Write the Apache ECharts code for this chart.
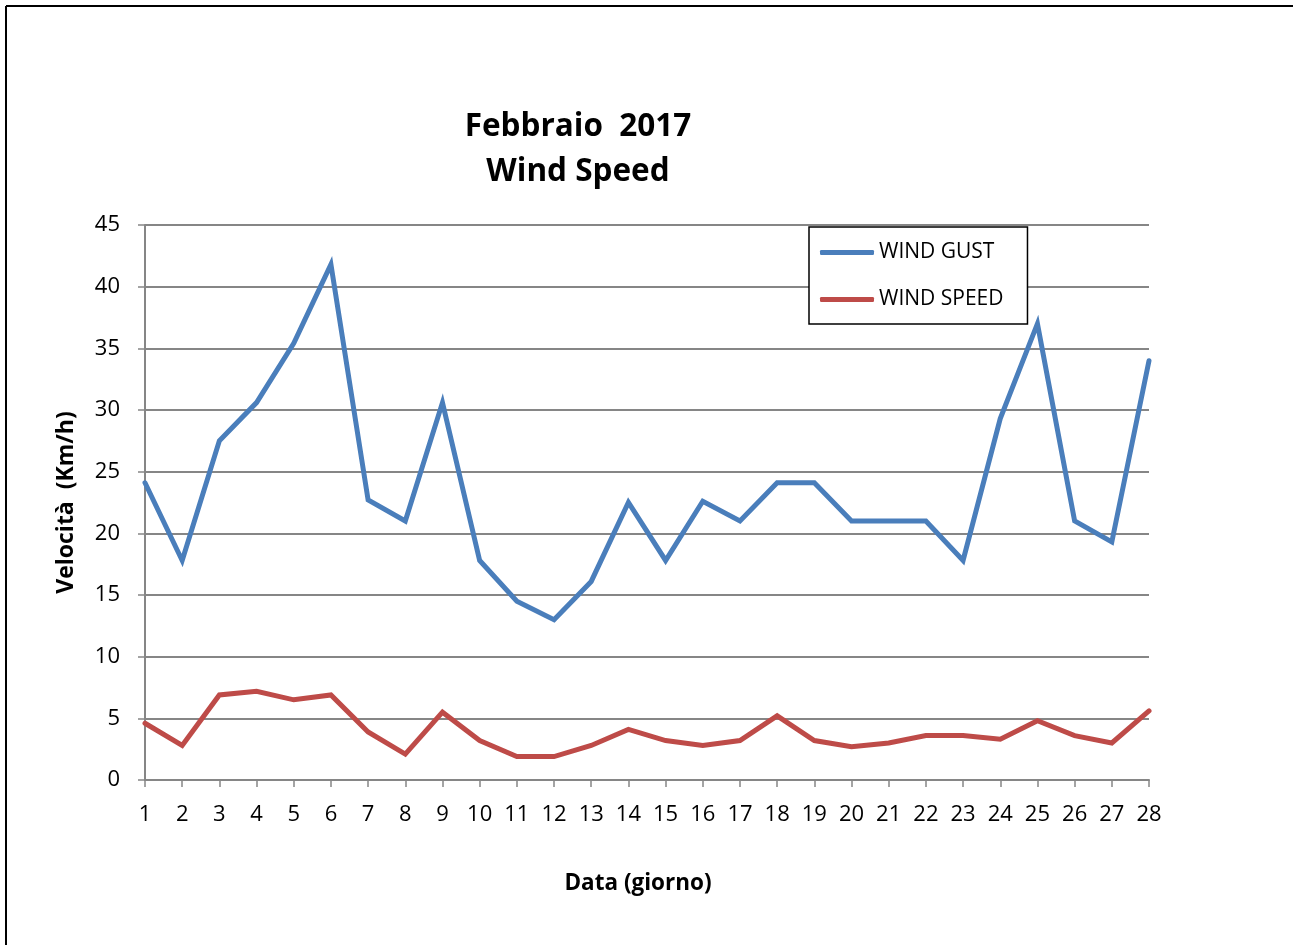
<!DOCTYPE html>
<html>
<head>
<meta charset="utf-8">
<script src="https://cdn.jsdelivr.net/npm/echarts@6/dist/echarts.min.js"></script>
<style>
  html, body { margin: 0; padding: 0; background: #fff; overflow: hidden; }
  #chart { width: 1293px; height: 945px; }
</style>
</head>
<body>
<div id="chart"></div>
<script>
// giorni di febbraio
const days = ['1','2','3','4','5','6','7','8','9','10','11','12','13','14','15','16','17','18','19','20','21','22','23','24','25','26','27','28']
const windGust = [24.1, 17.8, 27.5, 30.6, 35.4, 41.8, 22.7, 21.0, 30.6, 17.8, 14.5, 13.0, 16.1, 22.5, 17.8, 22.6, 21.0, 24.1, 24.1, 21.0, 21.0, 21.0, 17.8, 29.3, 37.0, 21.0, 19.3, 34.0]
const windSpeed = [4.6, 2.8, 6.9, 7.2, 6.5, 6.9, 3.9, 2.1, 5.5, 3.2, 1.9, 1.9, 2.8, 4.1, 3.2, 2.8, 3.2, 5.2, 3.2, 2.7, 3.0, 3.6, 3.6, 3.3, 4.8, 3.6, 3.0, 5.6]
const yTicks = [0, 45, 5] // min, max, interval

const font = 'Open Sans, Lato, sans-serif'
const axisGray = '#868686'

let myChart = echarts.init(document.getElementById('chart'))
myChart.setOption({
  animation: false,
  backgroundColor: '#fff',
  textStyle: { fontFamily: font },
  title: {
    text: 'Febbraio  2017\nWind Speed',
    left: 573,
    top: 100,
    textAlign: 'center',
    textStyle: {
      fontFamily: font,
      fontSize: 31.5,
      fontWeight: 'bold',
      color: '#000',
      lineHeight: 45
    }
  },
  // cornice esterna: solo bordo sinistro e superiore visibili
  graphic: [{
    type: 'line',
    shape: { x1: 6, y1: 6, x2: 1293, y2: 6 },
    style: { stroke: '#000', lineWidth: 2 },
    silent: true
  }, {
    type: 'line',
    shape: { x1: 6, y1: 6, x2: 6, y2: 945 },
    style: { stroke: '#000', lineWidth: 2 },
    silent: true
  }],
  legend: {
    orient: 'vertical',
    left: 809,
    top: 227,
    padding: [15, 24, 14, 11],
    itemGap: 26,
    itemWidth: 54,
    itemHeight: 5,
    icon: 'roundRect',
    backgroundColor: '#fff',
    borderColor: '#000',
    borderWidth: 1.5,
    borderRadius: 0,
    textStyle: { fontFamily: font, fontSize: 21, color: '#000' },
    data: ['WIND GUST', 'WIND SPEED']
  },
  grid: {
    left: 145,
    right: 144,
    top: 225,
    bottom: 165
  },
  xAxis: {
    type: 'category',
    data: days,
    boundaryGap: false,
    name: 'Data (giorno)',
    nameLocation: 'middle',
    nameGap: 92,
    nameTextStyle: { fontFamily: font, fontSize: 22.5, fontWeight: 'bold', color: '#000', padding: [0, 18, 0, 0] },
    axisLine: { lineStyle: { color: axisGray, width: 2 } },
    axisTick: { show: true, length: 7, lineStyle: { color: axisGray, width: 1.5 } },
    axisLabel: { fontFamily: font, fontSize: 22, color: '#000', margin: 24, interval: 0 },
    splitLine: { show: false }
  },
  yAxis: {
    type: 'value',
    min: yTicks[0],
    max: yTicks[1],
    interval: yTicks[2],
    name: 'Velocità  (Km/h)',
    nameLocation: 'middle',
    nameGap: 67,
    nameRotate: 90,
    nameTextStyle: { fontFamily: font, fontSize: 23, fontWeight: 'bold', color: '#000' },
    axisLine: { show: true, lineStyle: { color: axisGray, width: 2 } },
    axisTick: { show: true, length: 7, lineStyle: { color: axisGray, width: 1.5 } },
    axisLabel: { fontFamily: font, fontSize: 22, color: '#000', margin: 25 },
    splitLine: { lineStyle: { color: axisGray, width: 2 } }
  },
  series: [
    {
      name: 'WIND GUST',
      type: 'line',
      data: windGust,
      symbol: 'none',
      color: '#4A7EBB',
      lineStyle: { color: '#4A7EBB', width: 5, cap: 'round', join: 'miter' }
    },
    {
      name: 'WIND SPEED',
      type: 'line',
      data: windSpeed,
      symbol: 'none',
      color: '#BE4B48',
      lineStyle: { color: '#BE4B48', width: 5, cap: 'round', join: 'miter' }
    }
  ]
})
</script>
</body>
</html>
